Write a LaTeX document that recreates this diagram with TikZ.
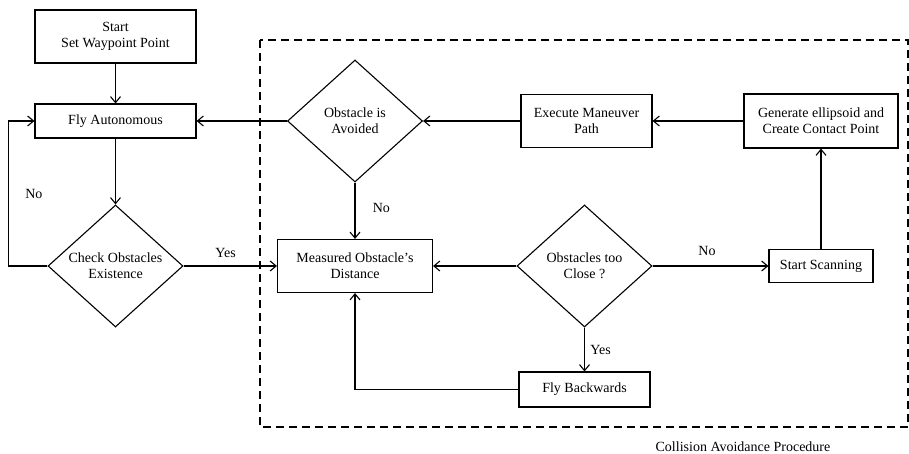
\documentclass[tikz,border=0pt]{standalone}
\usepackage{fontspec}
\setmainfont{Liberation Serif}
\usetikzlibrary{shapes.geometric}
\usetikzlibrary{arrows.meta}
\newcommand{\chartfont}{\fontsize{14}{16}\selectfont}
\tikzset{
	proc/.style={draw, rectangle, align=center, inner sep=2pt},
	dec/.style={draw, diamond, align=center, inner sep=0pt, minimum width=135pt, minimum height=122pt},
	frame/.style={dash pattern=on 8pt off 5pt, line width=1.7pt}
}

\begin{document}
\begin{tikzpicture}[x=1pt, y=-1pt, font=\chartfont, line width=1.1pt, >={Straight Barb[length=6pt,width=10pt]}]
\useasboundingbox (0,0) rectangle (909,454);
\draw[frame] (260,40) rectangle (908,427);
% left column
\node[proc, minimum width=161pt, minimum height=53pt] (start) at (115.5,36.5) {Start\\Set Waypoint Point};
\node[proc, minimum width=161pt, minimum height=34pt] (fly) at (115.5,121) {Fly Autonomous};
\node[dec] (check) at (115.5,266) {Check Obstacles\\Existence};
% avoidance procedure
\node[dec] (avoided) at (355,121) {Obstacle is\\Avoided};
\node[proc, minimum width=131pt, minimum height=53pt] (execute) at (586.5,121) {Execute Maneuver\\Path};
\node[proc, minimum width=154pt, minimum height=54pt] (generate) at (821,121) {Generate ellipsoid and\\Create Contact Point};
\node[proc, minimum width=155pt, minimum height=53pt] (measured) at (355,266) {Measured Obstacle's\\Distance};
\node[dec] (close) at (584.5,266) {Obstacles too\\Close ?};
\node[proc, minimum width=104pt, minimum height=33pt] (scanning) at (821,266) {Start Scanning};
\node[proc, minimum width=131pt, minimum height=35pt] (backwards) at (584.5,389.5) {Fly Backwards};
\node (cap) at (743,447) {Collision Avoidance Procedure};
\path[->]
(start) edge (fly)
(fly) edge (check)
(check) edge node [above, pos=0.45, yshift=4pt] {Yes} (measured)
(avoided) edge (fly)
(avoided) edge node [right=14pt, pos=0.45] {No} (measured)
(execute) edge (avoided)
(generate) edge (execute)
(scanning) edge (generate)
(close) edge node [above, pos=0.47, yshift=6pt] {No} (scanning)
(close) edge (measured)
(close) edge node [right=2pt] {Yes} (backwards);
\draw[->] (check.west) -- ++(-39,0) |- node [pos=0.25, right=13pt] {No} (fly.west);
\draw[->] (backwards.west) -| (measured.south);
\end{tikzpicture}
\end{document}
